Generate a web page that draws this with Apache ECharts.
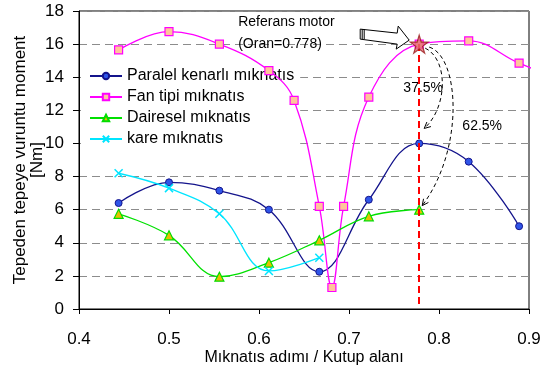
<!DOCTYPE html>
<html>
<head>
<meta charset="utf-8">
<script src="https://cdn.jsdelivr.net/npm/echarts@6/dist/echarts.min.js"></script>
<style>
html, body { margin: 0; padding: 0; background: #fff; }
#chart { width: 541px; height: 369px; }
</style>
</head>
<body>
<div id="chart"></div>
<script>
// magnet pitch / pole area ratios
const ratios = [0.444, 0.5, 0.556, 0.611, 0.667, 0.722, 0.778, 0.833, 0.889];
const paralel = [6.4, 7.65, 7.15, 6.0, 2.25, 6.6, 10.0, 8.9, 5.0];
const fanX = [0.444, 0.5, 0.556, 0.611, 0.639, 0.667, 0.681, 0.694, 0.722, 0.778, 0.833, 0.889, 0.944];
const fanTipi = [15.65, 16.75, 16.0, 14.4, 12.6, 6.2, 1.3, 6.2, 12.8, 16.0, 16.2, 14.85, 13.7];
const daireselX = [0.444, 0.5, 0.556, 0.611, 0.667, 0.722, 0.778];
const dairesel = [5.75, 4.45, 1.95, 2.8, 4.15, 5.6, 6.0];
const kareX = [0.444, 0.5, 0.556, 0.611, 0.667];
const kare = [8.2, 7.3, 5.75, 2.3, 3.1];
const seriesNames = ['Paralel kenarlı mıknatıs', 'Fan tipi mıknatıs', 'Dairesel mıknatıs', 'kare mıknatıs'];
const refPoint = [0.778, 16];
const percentLabels = ['37.5%', '62.5%'];

const font = 'Liberation Sans, Arial, sans-serif';
const pair = (xs, ys) => xs.map((x, i) => [x, ys[i]]);
const starPath = 'path://M50,0 L61,35 L98,35 L68,57 L79,91 L50,70 L21,91 L32,57 L2,35 L39,35 Z';
const crossPath = 'path://M0,0 L10,10 M10,0 L0,10';

const chart = echarts.init(document.getElementById('chart'));

const option = {
    animation: false,
    textStyle: { fontFamily: font },
    grid: {
        left: 79, right: 12, top: 11, bottom: 60, containLabel: false, outerBoundsMode: 'none',
        show: true, borderColor: '#000', borderWidth: 1
    },
    xAxis: {
        type: 'value', min: 0.4, max: 0.9, interval: 0.1,
        name: 'Mıknatıs adımı / Kutup alanı', nameLocation: 'middle', nameGap: 41, nameMoveOverlap: false,
        nameTextStyle: { fontSize: 16, color: '#000', fontFamily: font },
        axisLine: { lineStyle: { color: '#000' } },
        axisTick: { length: 5, lineStyle: { color: '#000' } },
        axisLabel: { fontSize: 17, color: '#000', margin: 22, formatter: v => v.toFixed(1) },
        splitLine: { show: false }
    },
    yAxis: {
        type: 'value', min: 0, max: 18, interval: 2,
        name: 'Tepeden tepeye vuruntu moment\n[Nm]', nameLocation: 'middle', nameGap: 33, nameMoveOverlap: false,
        nameTextStyle: { fontSize: 17, color: '#000', fontFamily: font, lineHeight: 17 },
        axisLine: { show: true, lineStyle: { color: '#000' } },
        axisTick: { show: true, length: 6, lineStyle: { color: '#000' } },
        axisLabel: { fontSize: 17, color: '#000', margin: 15 },
        splitLine: { show: true, lineStyle: { color: '#8c8c8c', type: [8, 5], width: 1 } }
    },
    legend: {
        orient: 'vertical', left: 81, top: 66, z: 1,
        backgroundColor: '#fff', padding: [2, 6, 2, 8],
        itemWidth: 32, itemHeight: 8, itemGap: 5,
        textStyle: { fontSize: 16, color: '#000', fontFamily: font },
        data: seriesNames
    },
    series: [
        {
            name: seriesNames[0], type: 'line', smooth: 0.4, data: pair(ratios, paralel),
            symbol: 'circle', symbolSize: 7,
            lineStyle: { color: '#14148c', width: 1.3 },
            itemStyle: { color: '#2f55e8', borderColor: '#14148c', borderWidth: 1 }
        },
        {
            name: seriesNames[1], type: 'line', smooth: 0.4, clip: false, data: pair(fanX, fanTipi),
            symbol: 'rect', symbolSize: 8,
            lineStyle: { color: '#ff00ff', width: 1.3 },
            itemStyle: { color: '#ffc49a', borderColor: '#ff00ff', borderWidth: 1.2 },
            markLine: {
                silent: true, symbol: ['none', 'none'], label: { show: false },
                lineStyle: { color: '#ff0000', type: [7, 4], width: 2 },
                data: [[{ coord: refPoint }, { coord: [refPoint[0], 0.25] }]]
            }
        },
        {
            name: seriesNames[2], type: 'line', smooth: 0.4, data: pair(daireselX, dairesel),
            symbol: 'triangle', symbolSize: 9,
            lineStyle: { color: '#00e000', width: 1.3 },
            itemStyle: { color: '#e8c000', borderColor: '#00dd00', borderWidth: 1.2 }
        },
        {
            name: seriesNames[3], type: 'line', smooth: 0.4, data: pair(kareX, kare),
            symbol: crossPath, symbolSize: 8,
            lineStyle: { color: '#00e5ff', width: 1.3 },
            itemStyle: { color: '#00e5ff', borderColor: '#00e5ff', borderWidth: 1.5 }
        },
        {
            type: 'scatter', data: [refPoint], symbol: starPath, symbolSize: 18, z: 5,
            itemStyle: { color: '#e66a78', borderColor: '#9a1a1a', borderWidth: 1.2 }
        }
    ]
};
chart.setOption(option);

// annotations placed relative to the reference point
const px = v => chart.convertToPixel({ gridIndex: 0 }, v);
const s = px(refPoint);
const blue = px([refPoint[0], paralel[6]]);
const green = px([refPoint[0], dairesel[6]]);

function arrowHead(ex, ey, cx, cy) {
    const a = Math.atan2(ey - cy, ex - cx), L = 7, w = 0.45;
    return {
        type: 'polyline', silent: true,
        shape: { points: [[ex - L * Math.cos(a - w), ey - L * Math.sin(a - w)], [ex, ey], [ex - L * Math.cos(a + w), ey - L * Math.sin(a + w)]] },
        style: { stroke: '#000', lineWidth: 1, fill: null }
    };
}
function curve(x1, y1, c1x, c1y, c2x, c2y, x2, y2) {
    return [
        {
            type: 'bezierCurve', silent: true,
            shape: { x1, y1, cpx1: c1x, cpy1: c1y, cpx2: c2x, cpy2: c2y, x2, y2 },
            style: { stroke: '#000', lineWidth: 1, lineDash: [4, 3], fill: null }
        },
        arrowHead(x2, y2, c2x, c2y)
    ];
}

const end1 = [blue[0] + 5, blue[1] - 15];
const end2 = [green[0] + 3, green[1] - 4];
const textStyle = t => ({ text: t, font: '14px ' + font, fill: '#000', verticalAlign: 'middle' });
const graphics = [
    ...curve(s[0] + 6, s[1] + 4, s[0] + 30, s[1] + 16, s[0] + 28, s[1] + 64, end1[0], end1[1]),
    ...curve(s[0] + 10, s[1] + 3, s[0] + 40, s[1] + 12, s[0] + 46, s[1] + 104, end2[0], end2[1]),
    {
        type: 'polygon', silent: true,
        shape: { points: [[s[0] - 59, s[1] - 15], [s[0] - 22, s[1] - 11], [s[0] - 21, s[1] - 18], [s[0] - 10, s[1] - 4], [s[0] - 23, s[1] + 5], [s[0] - 22, s[1]], [s[0] - 59, s[1] - 5]] },
        style: { fill: '#fff', stroke: '#000', lineWidth: 1 }
    },
    { type: 'line', silent: true, shape: { x1: s[0] - 57, y1: s[1] - 15, x2: s[0] - 57, y2: s[1] - 5 }, style: { stroke: '#000', lineWidth: 1 } },
    { type: 'line', silent: true, shape: { x1: s[0] - 55, y1: s[1] - 15, x2: s[0] - 55, y2: s[1] - 5 }, style: { stroke: '#000', lineWidth: 1 } },
    { type: 'text', silent: true, x: s[0] - 181, y: s[1] - 22, style: textStyle('Referans motor') },
    { type: 'text', silent: true, x: s[0] - 181, y: s[1], style: textStyle('(Oran=0.778)') },
    { type: 'text', silent: true, x: s[0] + 4, y: s[1] + 44, style: Object.assign(textStyle(percentLabels[0]), { align: 'center' }) },
    { type: 'text', silent: true, x: s[0] + 63, y: s[1] + 82, style: Object.assign(textStyle(percentLabels[1]), { align: 'center' }) }
];
chart.setOption({ graphic: graphics });
</script>
</body>
</html>
